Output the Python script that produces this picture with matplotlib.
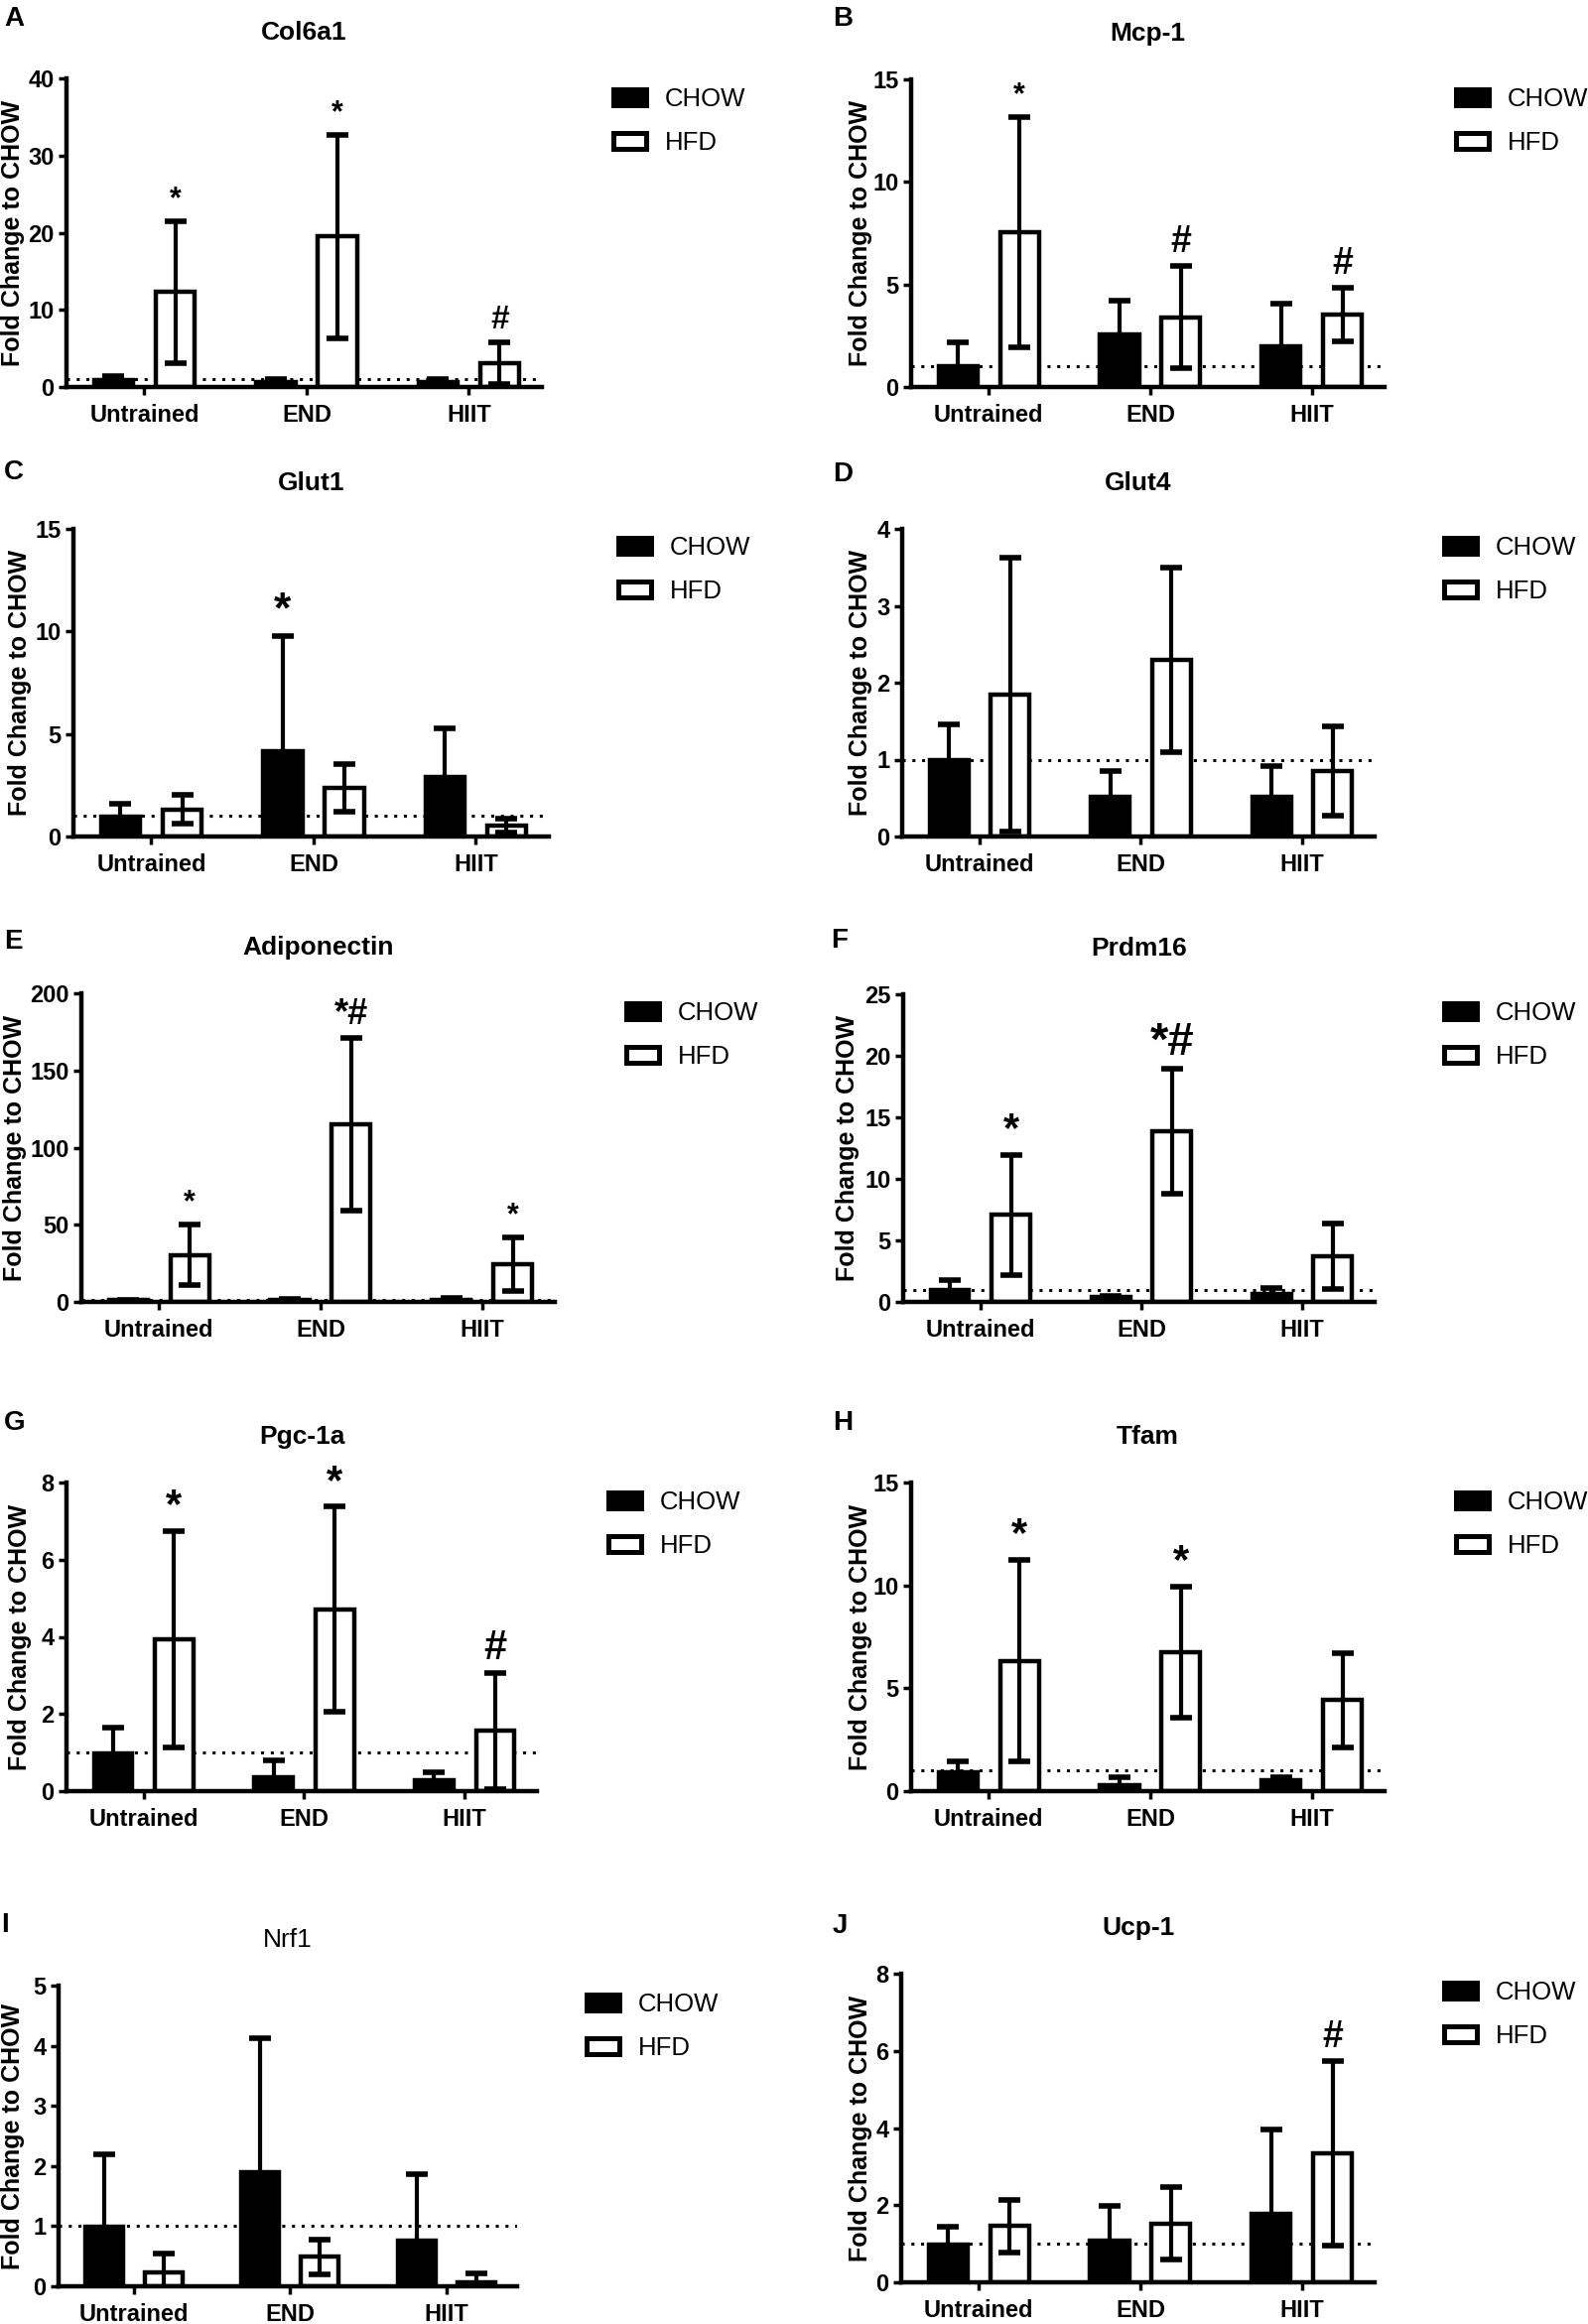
import matplotlib
matplotlib.use("Agg")
import matplotlib.pyplot as plt
import matplotlib.transforms as mtransforms
import numpy as np

plt.rcParams['font.family'] = ['Liberation Sans', 'DejaVu Sans']

W, H = 1600, 2342

groups = ["Untrained", "END", "HIIT"]
series = ["CHOW", "HFD"]

# ---- data (mean, SD) ----
col6a1_chow = [0.85, 0.6, 0.6]
col6a1_chow_sd = [0.6, 0.45, 0.45]
col6a1_hfd = [12.3, 19.5, 3.1]
col6a1_hfd_sd = [9.2, 13.2, 2.7]
col6a1_marks = [(0, 1, "*"), (1, 1, "*"), (2, 1, "#")]

mcp1_chow = [1.0, 2.56, 2.0]
mcp1_chow_sd = [1.2, 1.64, 2.05]
mcp1_hfd = [7.55, 3.4, 3.52]
mcp1_hfd_sd = [5.6, 2.5, 1.3]
mcp1_marks = [(0, 1, "*"), (1, 1, "#"), (2, 1, "#")]

glut1_chow = [0.98, 4.16, 2.88]
glut1_chow_sd = [0.62, 5.6, 2.4]
glut1_hfd = [1.33, 2.37, 0.53]
glut1_hfd_sd = [0.72, 1.16, 0.35]
glut1_marks = [(1, 0, "*")]

glut4_chow = [0.99, 0.52, 0.52]
glut4_chow_sd = [0.47, 0.33, 0.39]
glut4_hfd = [1.85, 2.3, 0.85]
glut4_hfd_sd = [1.78, 1.2, 0.58]
glut4_marks = []

adipo_chow = [1.0, 1.5, 1.2]
adipo_chow_sd = [0.5, 0.6, 1.5]
adipo_hfd = [30.4, 114.9, 24.5]
adipo_hfd_sd = [19.5, 56.0, 17.3]
adipo_marks = [(0, 1, "*"), (1, 1, "*#"), (2, 1, "*")]

prdm16_chow = [0.99, 0.4, 0.67]
prdm16_chow_sd = [0.8, 0.05, 0.45]
prdm16_hfd = [7.07, 13.87, 3.73]
prdm16_hfd_sd = [4.9, 5.1, 2.65]
prdm16_marks = [(0, 1, "*"), (1, 1, "*#")]

pgc1a_chow = [0.98, 0.35, 0.28]
pgc1a_chow_sd = [0.67, 0.44, 0.21]
pgc1a_hfd = [3.93, 4.72, 1.56]
pgc1a_hfd_sd = [2.8, 2.65, 1.5]
pgc1a_marks = [(0, 1, "*"), (1, 1, "*"), (2, 1, "#")]

tfam_chow = [0.93, 0.29, 0.53]
tfam_chow_sd = [0.5, 0.4, 0.16]
tfam_hfd = [6.33, 6.75, 4.42]
tfam_hfd_sd = [4.9, 3.2, 2.3]
tfam_marks = [(0, 1, "*"), (1, 1, "*")]

nrf1_chow = [0.99, 1.9, 0.76]
nrf1_chow_sd = [1.2, 2.23, 1.1]
nrf1_hfd = [0.23, 0.49, 0.07]
nrf1_hfd_sd = [0.31, 0.29, 0.15]
nrf1_marks = []

ucp1_chow = [0.98, 1.08, 1.78]
ucp1_chow_sd = [0.46, 0.89, 2.17]
ucp1_hfd = [1.46, 1.52, 3.34]
ucp1_hfd_sd = [0.68, 0.94, 2.4]
ucp1_marks = [(2, 1, "#")]

panels = [
    ("A", "Col6a1", col6a1_chow, col6a1_chow_sd, col6a1_hfd, col6a1_hfd_sd, 40, 10, col6a1_marks),
    ("B", "Mcp-1", mcp1_chow, mcp1_chow_sd, mcp1_hfd, mcp1_hfd_sd, 15, 5, mcp1_marks),
    ("C", "Glut1", glut1_chow, glut1_chow_sd, glut1_hfd, glut1_hfd_sd, 15, 5, glut1_marks),
    ("D", "Glut4", glut4_chow, glut4_chow_sd, glut4_hfd, glut4_hfd_sd, 4, 1, glut4_marks),
    ("E", "Adiponectin", adipo_chow, adipo_chow_sd, adipo_hfd, adipo_hfd_sd, 200, 50, adipo_marks),
    ("F", "Prdm16", prdm16_chow, prdm16_chow_sd, prdm16_hfd, prdm16_hfd_sd, 25, 5, prdm16_marks),
    ("G", "Pgc-1a", pgc1a_chow, pgc1a_chow_sd, pgc1a_hfd, pgc1a_hfd_sd, 8, 2, pgc1a_marks),
    ("H", "Tfam", tfam_chow, tfam_chow_sd, tfam_hfd, tfam_hfd_sd, 15, 5, tfam_marks),
    ("I", "Nrf1", nrf1_chow, nrf1_chow_sd, nrf1_hfd, nrf1_hfd_sd, 5, 1, nrf1_marks),
    ("J", "Ucp-1", ucp1_chow, ucp1_chow_sd, ucp1_hfd, ucp1_hfd_sd, 8, 2, ucp1_marks),
]

# ---- layout (pixels in the 1600x2342 canvas) ----
# axes box: left, top, right, bottom
axes_px = {
    "A": (67, 79, 546, 390), "B": (918, 80, 1395, 390),
    "C": (74, 533, 553, 843), "D": (909, 533, 1385, 843),
    "E": (82, 1001, 559, 1312), "F": (910, 1002, 1385, 1312),
    "G": (67, 1494, 541, 1805), "H": (918, 1494, 1395, 1805),
    "I": (59, 2001, 521, 2304), "J": (908, 1989, 1385, 2300),
}
# legend: handle left x, centre y
legend_px = {
    "A": (618, 122), "B": (1467, 122), "C": (623, 574), "D": (1455, 574),
    "E": (631, 1043), "F": (1455, 1043), "G": (613, 1536), "H": (1467, 1536),
    "I": (591, 2042), "J": (1455, 2030),
}
# panel letter: x centre, baseline
letter_px = {
    "A": (14, 26), "B": (849, 26), "C": (14, 483), "D": (849, 485),
    "E": (13, 956), "F": (846, 955), "G": (15, 1441), "H": (849, 1441),
    "I": (5, 1947), "J": (846, 1948),
}
ylabel_x = {"A": 13, "B": 867, "C": 20, "D": 867, "E": 15,
            "F": 854, "G": 20, "H": 867, "I": 13, "J": 867}
mark_size = {
    "A": {"*": 22, "#": 24}, "B": {"*": 22, "#": 27}, "C": {"*": 32},
    "E": {"*": 22, "*#": 26}, "F": {"*": 30, "*#": 34}, "G": {"*": 30, "#": 30},
    "H": {"*": 30}, "J": {"#": 27},
}

LW = 3.2
bar_w = 0.24
off = 0.19

fig = plt.figure(figsize=(W / 100, H / 100), dpi=100)

for letter, title, chow, chow_sd, hfd, hfd_sd, ymax, ystep, marks in panels:
    l, t, r, b = axes_px[letter]
    ax = fig.add_axes([l / W, 1 - b / H, (r - l) / W, (b - t) / H])
    x = np.arange(len(groups))

    # reference line at fold change = 1
    ax.axhline(1, color="black", lw=2.2, ls=(0, (1, 2.2)), zorder=1)

    bc = ax.bar(x - off, chow, bar_w, color="black", edgecolor="black",
                lw=LW, label=series[0], zorder=2)
    bh = ax.bar(x + off, hfd, bar_w, color="white", edgecolor="black",
                lw=LW, label=series[1], zorder=2)
    ax.errorbar(x - off, chow, yerr=chow_sd, fmt="none", ecolor="black",
                elinewidth=3, capsize=8, capthick=4, zorder=3)
    ax.errorbar(x + off, hfd, yerr=hfd_sd, fmt="none", ecolor="black",
                elinewidth=3, capsize=8, capthick=4, zorder=3)

    means = [chow, hfd]
    sds = [chow_sd, hfd_sd]
    for g, s, sym in marks:
        top = means[s][g] + sds[s][g]
        xs = g - off if s == 0 else g + off
        ax.annotate(sym, xy=(xs, top), xytext=(0, 10), textcoords="offset points",
                    ha="center", va="baseline", fontsize=mark_size[letter][sym],
                    fontweight="bold")

    ax.set_xlim(-0.48, 2.45)
    ax.set_ylim(0, ymax)
    ax.set_yticks(np.arange(0, ymax + ystep / 2, ystep))
    ax.set_xticks(x)
    ax.set_xticklabels(groups)
    for sp in ["top", "right"]:
        ax.spines[sp].set_visible(False)
    for sp in ["left", "bottom"]:
        ax.spines[sp].set_linewidth(LW)
    ax.tick_params(axis="both", length=6, width=2.5, labelsize=17)
    ax.tick_params(axis="x", pad=6)
    ax.tick_params(axis="y", pad=3)
    for lab in ax.get_xticklabels() + ax.get_yticklabels():
        lab.set_fontweight("bold")

    ax.set_title(title, fontsize=19, fontweight="normal" if letter == "I" else "bold", pad=28)
    ax.set_ylabel("Fold Change to CHOW", fontsize=18, fontweight="bold")
    ax.yaxis.label.set_va("center")
    tr = mtransforms.blended_transform_factory(fig.transFigure, ax.transAxes)
    ax.yaxis.set_label_coords(ylabel_x[letter] / W, 0.5, transform=tr)

    lx, ly = legend_px[letter]
    leg = ax.legend(handles=[bc, bh], loc="center left",
                    bbox_to_anchor=(lx / W, 1 - ly / H), bbox_transform=fig.transFigure,
                    frameon=False, fontsize=18.5, handlelength=1.3, handleheight=0.6,
                    handletextpad=0.7, labelspacing=0.78, borderpad=0, borderaxespad=0)
    for hdl in leg.legend_handles:
        hdl.set_linewidth(3.6)

    px, py = letter_px[letter]
    fig.text(px / W, 1 - py / H, letter, fontsize=20, fontweight="bold",
             ha="center", va="baseline")

fig.savefig("out.png", dpi=100)
